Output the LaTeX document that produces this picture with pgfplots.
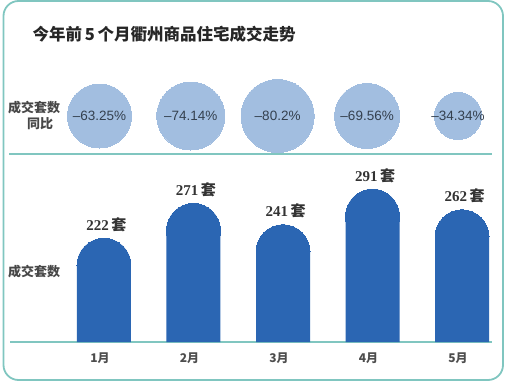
\documentclass[border=0pt]{standalone}
\usepackage{pgfplots}
\pgfplotsset{compat=1.18}
\usepackage{pgfplotstable}
\usepackage{fontspec}
\setmainfont{Liberation Serif}
\newfontfamily\cjk{Noto Sans CJK SC}
\newfontfamily\sans{Liberation Sans}
\definecolor{frame}{HTML}{80C6C0}
\definecolor{barblue}{HTML}{2B66B3}
\definecolor{bubble}{HTML}{A2BEE0}
\definecolor{bubtxt}{HTML}{34404E}
\definecolor{lbl}{HTML}{333333}
\definecolor{tick}{HTML}{4D4D4D}

\pgfplotstableread{
x v
0 222
1 271
2 241
3 291
4 262
}\bars

\pgfplotstableread{
x y r lab
-0.05 0 32 –63.25
0.97 0 34 –74.14
1.94 0 36.5 –80.2
2.94 0 32.5 –69.56
3.955 0 23.5 –34.34
}\bubbles

\begin{document}
\begin{tikzpicture}
\path (0pt,0pt) rectangle (509pt,384pt);
\draw[frame, line width=1.8pt, rounded corners=15pt] (3.5pt,4pt) rectangle (503pt,383pt);
% title
\node[anchor=west, font=\cjk\bfseries\fontsize{16.5}{18}\selectfont, text=black!85] at (29pt,384pt-34pt) {今年前\,5\,个月衢州商品住宅成交走势};
% left labels
\node[anchor=west, align=left, font=\cjk\bfseries\fontsize{13}{16}\selectfont, text=lbl!90, inner sep=0pt] at (8pt,384pt-115pt) {成交套数\\\hspace*{19pt}同比};
\node[anchor=west, align=left, font=\cjk\bfseries\fontsize{13}{16}\selectfont, text=lbl!90, inner sep=0pt] at (8pt,384pt-272pt) {成交套数};
% separator
\draw[frame, line width=1.3pt] (9pt,384pt-154pt) -- (492pt,384pt-154pt);

% bubble axis
\begin{axis}[
  at={(10pt,238pt)}, anchor=south west,
  scale only axis, width=482pt, height=60pt,
  xmin=-1.050, xmax=4.335, ymin=-1, ymax=1,
  hide axis, clip=false,
]
\addplot[scatter, only marks, mark=*,
  point meta=\thisrow{r},
  visualization depends on={\thisrow{r}\as\rad},
  scatter/use mapped color={draw=bubble, fill=bubble, line width=0pt},
  scatter/@pre marker code/.append style={/tikz/mark size=\rad pt},
] table[x=x, y=y] {\bubbles};
\addplot[draw=none, mark=none,
  point meta=explicit symbolic,
  nodes near coords={\pgfplotspointmeta\%},
  every node near coord/.style={anchor=center, font=\sans\fontsize{13.5}{14}\selectfont, text=bubtxt},
] table[x=x, y=y, meta=lab] {\bubbles};
\end{axis}

% bar axis
\begin{axis}[
  at={(10pt,42pt)}, anchor=south west,
  scale only axis, width=482pt, height=182pt,
  xmin=-1.050, xmax=4.335, ymin=76, ymax=332,
  axis x line=bottom, axis y line=none,
  x axis line style={frame, line width=1.3pt, -},
  xtick=data, xticklabels={1月,2月,3月,4月,5月},
  major tick length=0pt,
  xticklabel style={font=\cjk\bfseries\fontsize{12}{14}\selectfont, text=tick, xshift=-4pt, yshift=-7pt},
  ytick=\empty, clip=false,
]
% bar bodies (top reduced by the cap radius: 27pt = 38 data units)
\addplot[ybar, bar width=54pt, fill=barblue, draw=none] table[x=x, y expr=\thisrow{v}-38] {\bars};
% rounded caps
\addplot[only marks, mark=*, mark size=27pt, mark options={fill=barblue, draw=barblue, line width=0pt}] table[x=x, y expr=\thisrow{v}-38] {\bars};
% value labels
\addplot[draw=none, mark=none,
  nodes near coords={\textbf{\pgfmathprintnumber[assume math mode=true]{\pgfplotspointmeta}}\,{\cjk\bfseries 套}},
  every node near coord/.style={anchor=south, font=\fontsize{15}{16}\selectfont, text=lbl, yshift=3pt, xshift=2.5pt},
] table[x=x, y=v] {\bars};
\end{axis}
\end{tikzpicture}
\end{document}
